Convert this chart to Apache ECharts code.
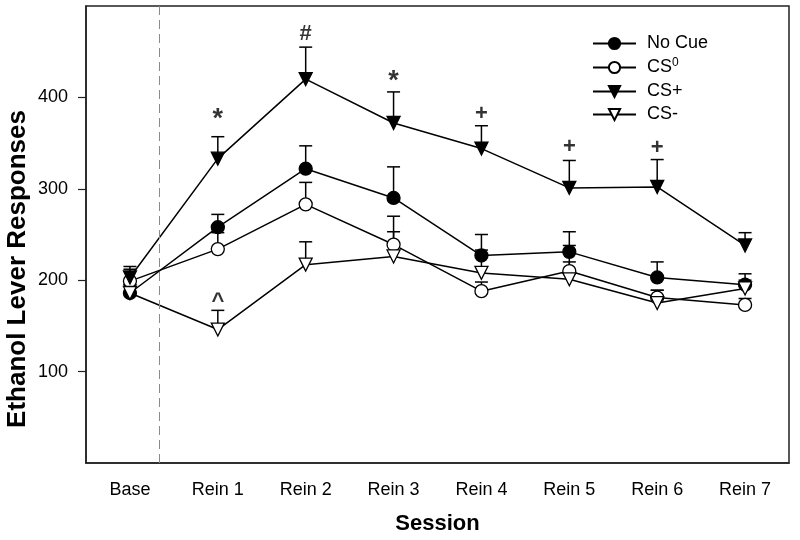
<!DOCTYPE html>
<html>
<head>
<meta charset="utf-8">
<script src="https://cdn.jsdelivr.net/npm/echarts@6/dist/echarts.min.js"></script>
<style>html,body{margin:0;padding:0;background:#fff}#c{width:800px;height:540px}</style>
</head>
<body>
<div id="c"></div>
<script>
// ---- data ----
const categories = ['Base', 'Rein 1', 'Rein 2', 'Rein 3', 'Rein 4', 'Rein 5', 'Rein 6', 'Rein 7'];
const yTicks = [100, 200, 300, 400];

const noCue      = [186, 258, 322, 290, 227, 231, 203, 195];
const noCueErr   = [195, 272, 347, 324, 250, 253, 220, 207];
const cs0        = [199, 234, 283, 239, 188, 210, 181, 173];
const cs0Err     = [212, 252, 307, 270, 198, 238, 189, 180];
const csPlus     = [203, 333, 420, 372, 344, 301, 302, 238];
const csPlusErr  = [215, 357, 455, 406, 369, 331, 332, 252];
const csMinus    = [186, 146, 217, 226, 208, 201, 175, 191];
const csMinusErr = [195, 167, 242, 253, 233, 220, 189, 200];

// significance marks: category index, text, y value
const markCat  = [1, 2, 3, 4, 5, 6, 1];
const markText = ['*', '#', '*', '+', '+', '+', '^'];
const markY    = [376, 469, 417, 382, 346, 345, 176];

const dividerX = 0.33; // dashed divider between Base and Rein 1
const yTitle = 'Ethanol Lever Responses';
const xTitle = 'Session';

// ---- chart ----
const FONT = '"Liberation Sans", Arial, Helvetica, sans-serif';
const INK = '#000';
const chart = echarts.init(document.getElementById('c'));

function errSeries(name, vals, errs) {
  return {
    type: 'custom',
    name: name + ' err',
    z: 1,
    silent: true,
    data: vals.map((v, i) => [i, v, errs[i]]),
    encode: { x: 0, y: [1, 2] },
    renderItem: function (params, api) {
      const p0 = api.coord([api.value(0), api.value(1)]);
      const p1 = api.coord([api.value(0), api.value(2)]);
      return {
        type: 'group',
        children: [
          { type: 'line', shape: { x1: p0[0], y1: p0[1], x2: p1[0], y2: p1[1] }, style: { stroke: INK, lineWidth: 1.5 } },
          { type: 'line', shape: { x1: p1[0] - 6.5, y1: p1[1], x2: p1[0] + 6.5, y2: p1[1] }, style: { stroke: INK, lineWidth: 1.5 } }
        ]
      };
    }
  };
}

function lineSeries(name, vals, symbol, filled, rotate) {
  return {
    type: 'line',
    name: name,
    z: 3,
    data: vals,
    symbol: symbol,
    symbolSize: 13,
    symbolRotate: rotate || 0,
    showAllSymbol: true,
    lineStyle: { color: INK, width: 1.5 },
    itemStyle: { color: filled ? INK : '#fff', borderColor: INK, borderWidth: 1.3 }
  };
}

const option = {
  animation: false,
  backgroundColor: '#fff',
  textStyle: { fontFamily: FONT },
  grid: { left: 86, right: 11, top: 6, bottom: 77, show: true, borderColor: '#222', borderWidth: 1.5, backgroundColor: 'transparent' },
  graphic: [{
    type: 'text',
    x: 18, y: 269,
    rotation: Math.PI / 2,
    style: { text: yTitle, font: 'bold 26px ' + FONT, fill: INK, textAlign: 'center', textVerticalAlign: 'middle' }
  }],
  legend: {
    data: ['No Cue', 'CS0', 'CS+', 'CS-'],
    orient: 'vertical',
    left: 587,
    top: 29,
    itemWidth: 43,
    itemHeight: 14,
    itemGap: 4,
    formatter: function (n) { return n === 'CS0' ? 'CS{sup|0}' : n; },
    textStyle: {
      fontFamily: FONT, fontSize: 18, color: INK, lineHeight: 19, padding: [0, 0, 0, 6],
      rich: { sup: { fontSize: 12, fontFamily: FONT, color: INK, lineHeight: 12, padding: [0, 0, 9, 0] } }
    }
  },
  xAxis: [
    {
      type: 'category',
      data: categories,
      boundaryGap: true,
      name: xTitle,
      nameLocation: 'middle',
      nameGap: 50,
      nameTextStyle: { fontFamily: FONT, fontSize: 22, fontWeight: 'bold', color: INK },
      axisLine: { lineStyle: { color: '#222', width: 1.5 } },
      axisTick: { alignWithLabel: true, length: 7, lineStyle: { color: '#222', width: 1.2 } },
      axisLabel: { fontFamily: FONT, fontSize: 18, color: INK, margin: 18 },
      splitLine: { show: false }
    },
    { type: 'value', min: -0.5, max: 7.5, show: false }
  ],
  yAxis: {
    type: 'value',
    min: 0,
    max: 500,
    interval: 100,
    axisLine: { show: true, onZero: false, lineStyle: { color: '#222', width: 1.5 } },
    axisTick: { show: true, length: 8, customValues: yTicks, lineStyle: { color: '#222', width: 1.2 } },
    axisLabel: { fontFamily: FONT, fontSize: 18, color: INK, margin: 18, customValues: yTicks },
    splitLine: { show: false }
  },
  series: [
    {
      type: 'line', name: 'divider', xAxisIndex: 1, data: [], silent: true,
      markLine: {
        symbol: 'none', silent: true, label: { show: false },
        lineStyle: { color: '#8a8a8a', width: 1, type: [9, 5] },
        data: [{ xAxis: dividerX }]
      }
    },
    errSeries('No Cue', noCue, noCueErr),
    errSeries('CS0', cs0, cs0Err),
    errSeries('CS+', csPlus, csPlusErr),
    errSeries('CS-', csMinus, csMinusErr),
    lineSeries('No Cue', noCue, 'circle', true),
    lineSeries('CS0', cs0, 'circle', false),
    lineSeries('CS+', csPlus, 'triangle', true, 180),
    lineSeries('CS-', csMinus, 'triangle', false, 180),
    {
      type: 'scatter', name: 'marks', silent: true, z: 5,
      symbolSize: 0,
      data: markCat.map((c, i) => ({
        value: [c, markY[i]],
        label: { formatter: markText[i], fontSize: markText[i] === '*' ? 27 : 22 }
      })),
      label: {
        show: true, position: 'inside', fontFamily: FONT, fontSize: 22, fontWeight: 'bold', color: INK,
        verticalAlign: 'middle', align: 'center'
      }
    }
  ]
};
chart.setOption(option);
</script>
</body>
</html>
